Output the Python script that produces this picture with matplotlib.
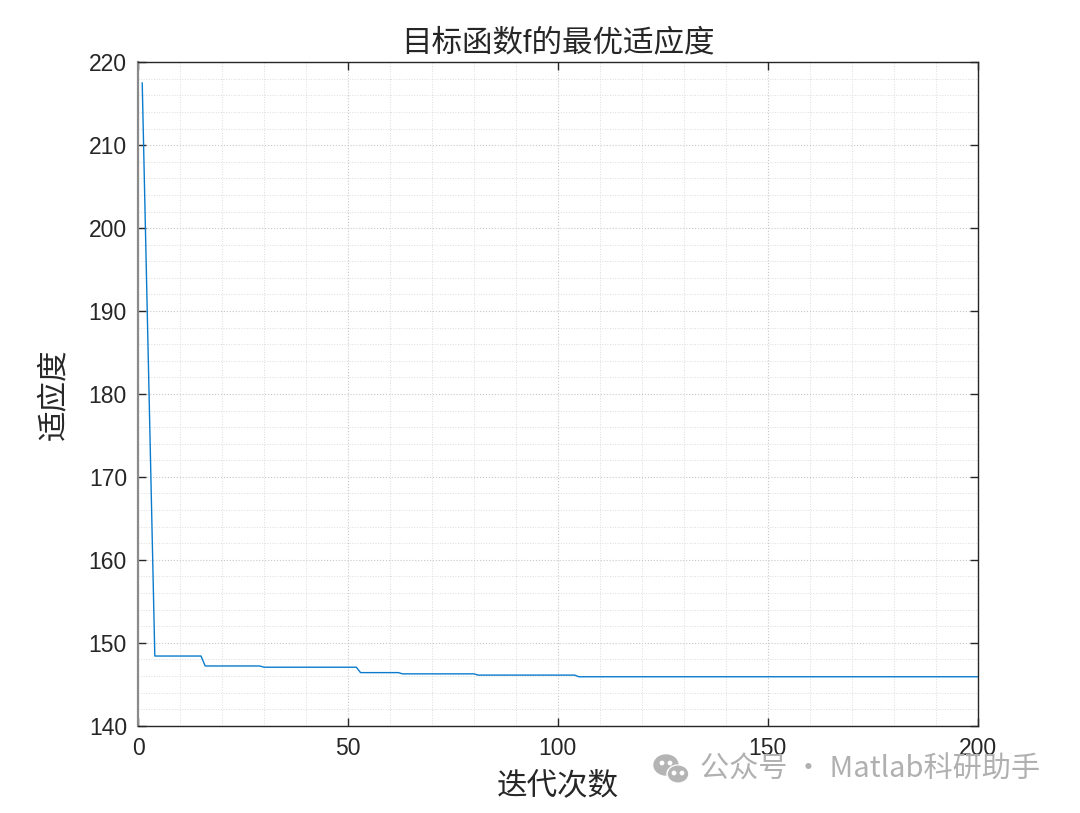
import matplotlib
matplotlib.use("Agg")
import matplotlib.pyplot as plt
from matplotlib.patches import Ellipse, Circle
from matplotlib.ticker import MultipleLocator

plt.rcParams['font.family'] = ['Liberation Sans', 'Noto Sans CJK SC', 'DejaVu Sans']

# 迭代次数 / 最优适应度（从图上读出的拐点）
iters = [1, 4, 15, 16, 29, 30, 52, 53, 62, 63, 80, 81, 104, 105, 200]
fitness = [217.5, 148.4, 148.4, 147.2, 147.2, 147.05, 147.05, 146.4,
           146.4, 146.25, 146.25, 146.1, 146.1, 145.9, 145.9]

title_text = '目标函数f的最优适应度'
x_label = '迭代次数'
y_label = '适应度'
watermark = '公众号 · Matlab科研助手'

fig = plt.figure(figsize=(10.8, 8.13), dpi=100)
ax = fig.add_axes([0.1278, 0.1074, 0.9053 - 0.1278, 0.9234 - 0.1074])

ax.plot(iters, fitness, color='#0A7BCC', linewidth=1.0)

ax.set_xlim(0, 200)
ax.set_ylim(140, 220)
ax.xaxis.set_major_locator(MultipleLocator(50))
ax.yaxis.set_major_locator(MultipleLocator(10))
ax.xaxis.set_minor_locator(MultipleLocator(10))
ax.yaxis.set_minor_locator(MultipleLocator(2))

# MATLAB 风格：刻度朝内、四边框、次网格点线
ax.tick_params(which='major', direction='in', length=6, width=1.0,
               top=True, right=True, labelsize=16.5, colors='#262626', pad=8)
ax.tick_params(which='minor', length=0, top=True, right=True)
ax.grid(True, which='major', linestyle=':', color='#c8c8c8', linewidth=0.8)
ax.grid(True, which='minor', linestyle=':', color='#dcdcdc', linewidth=0.7)
for sp in ax.spines.values():
    sp.set_color('#262626')
    sp.set_linewidth(1.0)
ax.spines['left'].set_color('#8a8a8a')
ax.spines['left'].set_linewidth(1.6)

ax.set_title(title_text, fontsize=22, color='#262626', pad=8)
ax.set_xlabel(x_label, fontsize=22, color='#262626', labelpad=8)
ax.set_ylabel(y_label, fontsize=22, color='#262626', labelpad=14)

# 水印：微信图标 + 文字
icon = fig.add_axes([652 / 1080, 1 - 786 / 813, 40 / 1080, 34 / 813])
icon.set_xlim(0, 40)
icon.set_ylim(0, 34)
icon.set_aspect('equal')
icon.axis('off')
icon.add_patch(Ellipse((14, 21), 24, 20, color='#b4b4b4'))
icon.add_patch(Ellipse((26, 12), 22, 18, color='white'))
icon.add_patch(Ellipse((26, 12), 19, 15.5, color='#b4b4b4'))
for cx, cy in [(10, 23), (18, 23), (22, 13), (30, 13)]:
    icon.add_patch(Circle((cx, cy), 1.7, color='white'))

fig.text(700 / 1080, 1 - 770 / 813, watermark, fontsize=21, color='#b0b0b0',
         ha='left', va='center', family=['Noto Sans CJK SC', 'DejaVu Sans'])

fig.savefig('out.png', dpi=100, facecolor='white')
